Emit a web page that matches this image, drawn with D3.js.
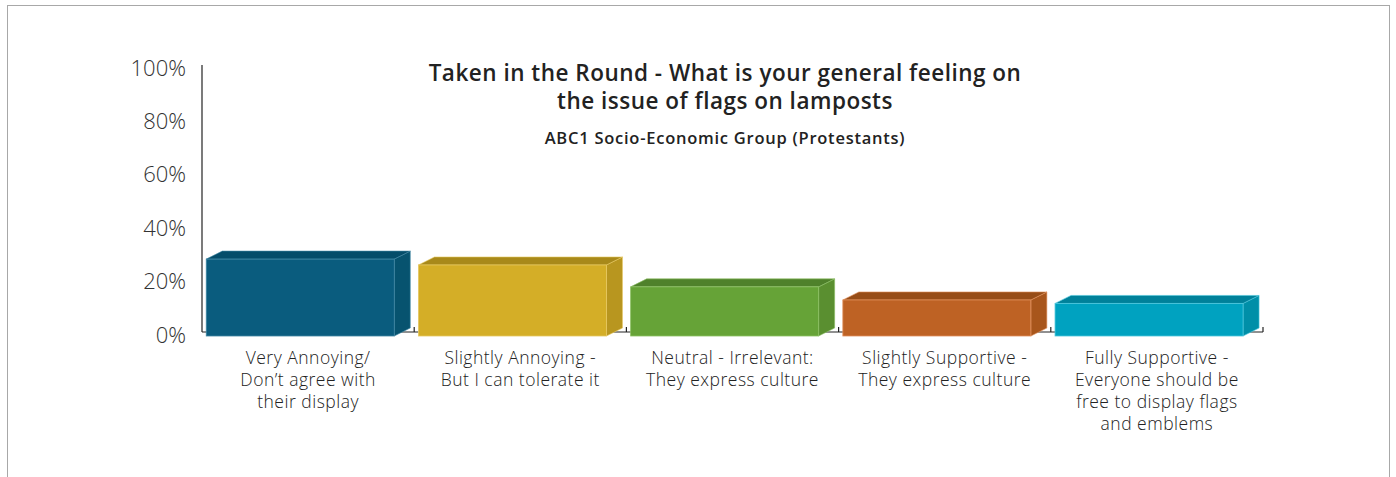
<!DOCTYPE html>
<html>
<head>
<meta charset="utf-8">
<script src="https://cdn.jsdelivr.net/npm/d3@7"></script>
<style>
  body { margin: 0; background: #fff; }
  svg { display: block; font-family: "Open Sans", "Noto Sans", sans-serif; }
  .ylab { font-size: 22px; font-weight: 300; fill: #333; }
  .xlab { font-size: 17.5px; font-weight: 300; fill: #222; letter-spacing: 0.5px; }
  .title { font-size: 22.5px; font-weight: 600; fill: #222; letter-spacing: 0.5px; }
  .subtitle { font-size: 16.5px; font-weight: 600; fill: #222; letter-spacing: 0.75px; }
</style>
</head>
<body>
<svg id="viz" width="1396" height="477"></svg>
<script>
// Data
const categories = [
  'Very Annoying/\nDon\u2019t agree with\ntheir display',
  'Slightly Annoying -\nBut I can tolerate it',
  'Neutral - Irrelevant:\nThey express culture',
  'Slightly Supportive -\nThey express culture',
  'Fully Supportive -\nEveryone should be\nfree to display flags\nand emblems'
];
const values = [0.288, 0.266, 0.184, 0.135, 0.122];
const yTicks = [0, 0.2, 0.4, 0.6, 0.8, 1.0];
const frontColors = ['#0a5c7e', '#d4ae27', '#66a337', '#be6224', '#00a2c0'];
const topColors   = ['#054d6a', '#a8891a', '#4f812b', '#974d17', '#00819a'];
const sideColors  = ['#07536f', '#b8961f', '#5a8f30', '#a8561c', '#008fa8'];
const edgeColors  = ['#3f86a3', '#e6c860', '#8cc063', '#e0905c', '#4cc6dc'];

const svg = d3.select('#viz');

// outer frame
svg.append('rect')
   .attr('x', 7.5).attr('y', 5.5)
   .attr('width', 1382).attr('height', 490)
   .attr('fill', 'none').attr('stroke', '#a8a8a8');

// Scales (back plane)
const x = d3.scaleBand().domain(categories).range([202, 1263]).padding(0);
const y = d3.scaleLinear().domain([0, 1]).range([332, 65]);
const depth = { dx: 16, dy: 8 };

// Y axis: labels only, domain line drawn separately
const yAxis = svg.append('g')
   .attr('transform', 'translate(186,3)')
   .call(d3.axisLeft(y).tickValues(yTicks).tickSize(0).tickPadding(0).tickFormat(d3.format('.0%')))
   .attr('font-family', null).attr('font-size', null);
yAxis.select('.domain').remove();
yAxis.selectAll('text').attr('class', 'ylab').attr('fill', null);

const axisColor = '#222';
svg.append('line')
   .attr('x1', 202).attr('x2', 202).attr('y1', y(1)).attr('y2', y(0))
   .attr('stroke', axisColor).attr('stroke-width', 1.2);
svg.append('line')
   .attr('x1', 202).attr('x2', x.range()[1]).attr('y1', y(0)).attr('y2', y(0))
   .attr('stroke', axisColor).attr('stroke-width', 1.2);
// category boundary ticks
svg.selectAll('.xtick')
   .data(categories)
   .join('line')
     .attr('class', 'xtick')
     .attr('x1', d => x(d) + x.bandwidth()).attr('x2', d => x(d) + x.bandwidth())
     .attr('y1', y(0)).attr('y2', y(0) - 5)
     .attr('stroke', axisColor).attr('stroke-width', 1.2);

// 3D bars
const bw = x.bandwidth();
const bars = svg.selectAll('.bar')
   .data(categories.map((c, i) => ({ c, v: values[i], i })))
   .join('g').attr('class', 'bar');

bars.each(function(d) {
  const g = d3.select(this);
  const x0 = x(d.c) + bw * 0.02;
  const x1 = x0 + bw * 0.886;
  const yb = y(0) + 4;            // front face bottom
  const yt = yb - (y(0) - y(d.v)); // front face top
  const { dx, dy } = depth;
  // side face
  g.append('path')
   .attr('d', `M${x1},${yt}L${x1 + dx},${yt - dy}L${x1 + dx},${yb - dy}L${x1},${yb}Z`)
   .attr('fill', sideColors[d.i]).attr('stroke', edgeColors[d.i]).attr('stroke-width', 0.6);
  // top face
  g.append('path')
   .attr('d', `M${x0},${yt}L${x0 + dx},${yt - dy}L${x1 + dx},${yt - dy}L${x1},${yt}Z`)
   .attr('fill', topColors[d.i]).attr('stroke', edgeColors[d.i]).attr('stroke-width', 0.6);
  // front face
  g.append('rect')
   .attr('x', x0).attr('y', yt)
   .attr('width', x1 - x0).attr('height', yb - yt)
   .attr('fill', frontColors[d.i]).attr('stroke', edgeColors[d.i]).attr('stroke-width', 0.8);
});

// category labels
const xl = svg.selectAll('.xlab')
   .data(categories)
   .join('text')
     .attr('class', 'xlab')
     .attr('text-anchor', 'middle')
     .attr('x', d => x(d) + bw / 2)
     .attr('y', 364);
xl.selectAll('tspan')
  .data(d => d.split('\n'))
  .join('tspan')
    .attr('x', function() { return d3.select(this.parentNode).attr('x'); })
    .attr('dy', (d, i) => i === 0 ? 0 : 22)
    .text(d => d);

// titles
svg.append('text').attr('class', 'title').attr('text-anchor', 'middle')
   .attr('x', 725).attr('y', 81).text('Taken in the Round - What is your general feeling on');
svg.append('text').attr('class', 'title').attr('text-anchor', 'middle')
   .attr('x', 725).attr('y', 109).text('the issue of flags on lamposts');
svg.append('text').attr('class', 'subtitle').attr('text-anchor', 'middle')
   .attr('x', 725).attr('y', 144).text('ABC1 Socio-Economic Group (Protestants)');
</script>
</body>
</html>
